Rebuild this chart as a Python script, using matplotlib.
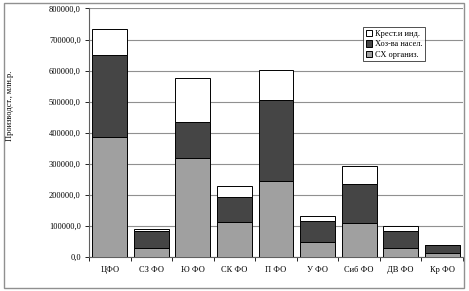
import numpy as np
import matplotlib.pyplot as plt
from matplotlib.ticker import FuncFormatter, FixedLocator

regions = ['ЦФО', 'СЗ ФО', 'Ю ФО', 'СК ФО', 'П ФО', 'У ФО', 'Сиб ФО', 'ДВ ФО', 'Кр ФО']
sx_org = [388000, 31000, 318000, 114000, 246000, 48000, 111000, 31000, 15000]
hoz_nas = [262000, 54000, 118000, 80000, 258000, 68000, 126000, 53000, 23000]
krest = [83000, 5000, 141000, 36000, 99000, 18000, 56000, 16000, 2000]

plt.rcParams['font.family'] = ['Liberation Serif', 'DejaVu Serif']

fig = plt.figure(figsize=(4.69, 2.91), dpi=100)
ax = fig.add_axes([0.19, 0.116, 0.797, 0.855])

x = np.arange(len(regions))
w = 0.84
b1 = ax.bar(x, sx_org, w, color='#a0a0a0', edgecolor='black', linewidth=0.7, label='СХ организ.', zorder=3)
b2 = ax.bar(x, hoz_nas, w, bottom=sx_org, color='#454545', edgecolor='black', linewidth=0.7,
            label='Хоз-ва насел.', zorder=3)
bottom2 = np.array(sx_org) + np.array(hoz_nas)
b3 = ax.bar(x, krest, w, bottom=bottom2, color='white', edgecolor='black', linewidth=0.7,
            label='Крест.и инд.', zorder=3)

ax.set_xlim(-0.5, len(regions) - 0.5)
ax.set_ylim(0, 800000)
ax.set_yticks(np.arange(0, 800001, 100000))
ax.yaxis.set_major_formatter(FuncFormatter(lambda v, p: f'{v:.1f}'.replace('.', ',')))
ax.grid(axis='y', color='#909090', linewidth=0.8, zorder=0)

ax.set_xticks(x)
ax.set_xticklabels(regions)
ax.xaxis.set_minor_locator(FixedLocator(np.arange(-0.5, len(regions), 1)))
ax.tick_params(axis='x', which='major', length=0, labelsize=6, pad=6)
ax.tick_params(axis='x', which='minor', length=3, width=0.6, direction='out')
ax.tick_params(axis='y', length=3, width=0.6, labelsize=6, pad=3)

for s in ['top', 'right']:
    ax.spines[s].set_visible(False)
ax.spines['left'].set_color('#606060')
ax.spines['bottom'].set_color('#606060')

ax.set_ylabel('Производст., млн.р.', fontsize=6)
ax.yaxis.set_label_coords(-0.2, 0.61)

leg = ax.legend(handles=[b3, b2, b1], loc='upper left', bbox_to_anchor=(0.733, 0.925),
                fontsize=6, frameon=True, fancybox=False, edgecolor='black',
                handlelength=0.8, handleheight=0.8, handletextpad=0.3,
                borderpad=0.3, labelspacing=0.3, borderaxespad=0)
leg.get_frame().set_linewidth(0.6)

fig.patches.append(plt.Rectangle((0.008, 0.01), 0.982, 0.98, transform=fig.transFigure,
                                 fill=False, edgecolor='#909090', linewidth=1.0))

fig.savefig('out.png', dpi=100)
